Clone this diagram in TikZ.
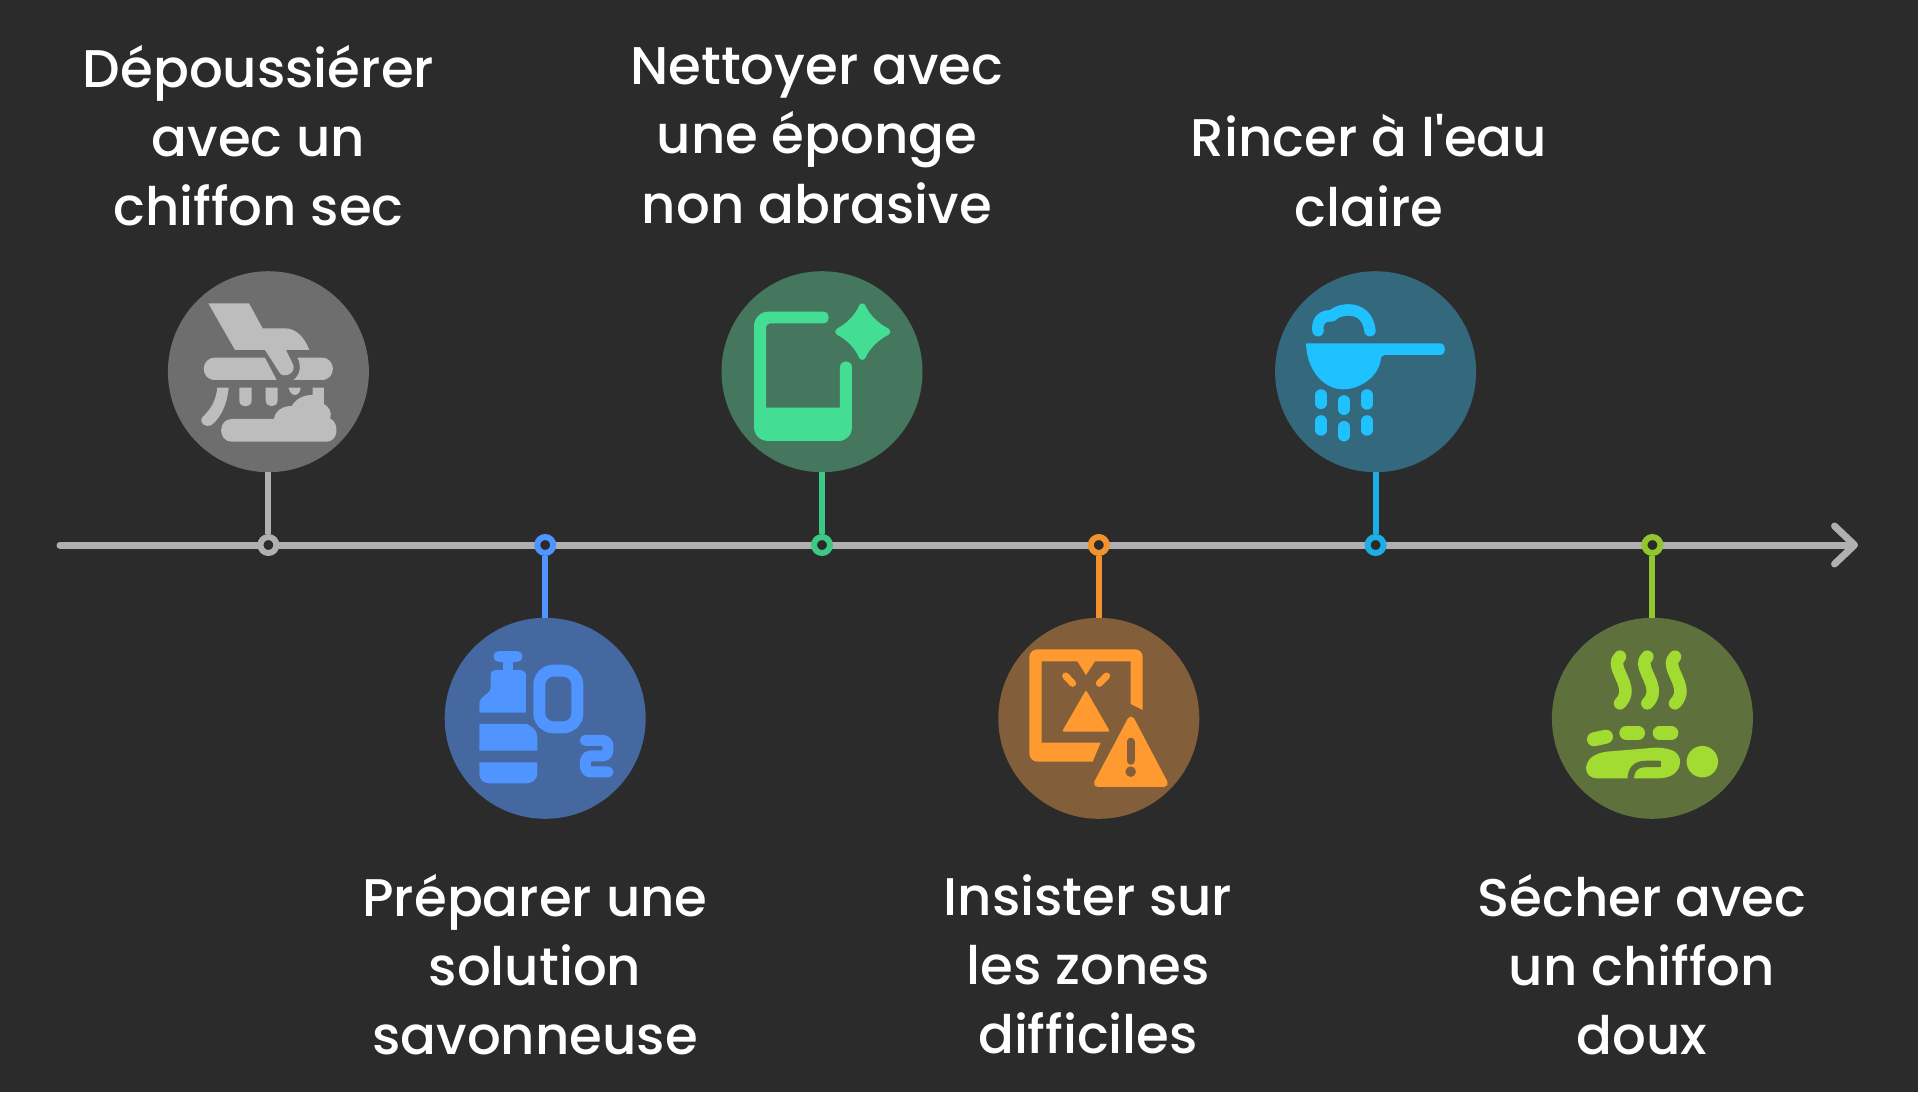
\documentclass[tikz,border=0pt]{standalone}
\usepackage{fontspec}
\usepackage{tikz}
\usetikzlibrary{arrows.meta}
\usepackage{xcolor}
\newfontfamily\StepFont{Poppins Medium}
\definecolor{ColBack}{RGB}{43,43,43}
\definecolor{ColAxis}{RGB}{176,176,176}
\definecolor{ColGrey}{RGB}{189,189,189}
\definecolor{ColGreyDisc}{RGB}{110,110,110}
\definecolor{ColBlue}{RGB}{79,148,255}
\definecolor{ColBlueDisc}{RGB}{68,104,159}
\definecolor{ColGreen}{RGB}{67,222,148}
\definecolor{ColGreenDisc}{RGB}{69,118,94}
\definecolor{ColOrange}{RGB}{255,154,48}
\definecolor{ColOrangeDisc}{RGB}{130,94,58}
\definecolor{ColTeal}{RGB}{31,193,255}
\definecolor{ColTealDisc}{RGB}{52,104,125}
\definecolor{ColLime}{RGB}{162,220,51}
\definecolor{ColLimeDisc}{RGB}{94,113,61}
\tikzstyle{StepDisc}=[circle,inner sep=0pt,outer sep=0pt,minimum size=201pt]
\tikzstyle{StepDot}=[circle,fill=ColBack,inner sep=0pt,minimum size=16pt,line width=6pt]
\tikzstyle{StepStem}=[line width=6pt]
\tikzstyle{AxisLine}=[ColAxis,line width=7pt,line cap=round,
-{Straight Barb[length=20pt,width=38pt,round]}]
\tikzstyle{StepLabel}=[text=white,align=center,font=\StepFont\fontsize{53}{69.3}\selectfont]
\tikzstyle{IconGrid}=[x=.3333pt,y=-.3333pt]
\tikzstyle{IconStroke}=[line cap=round,line join=round,fill=none]
\begin{document}
\begin{tikzpicture}[x=1pt,y=-1pt]
        \fill[ColBack](0,0)rectangle(1918,1092);
        \useasboundingbox(0,0)rectangle(1918,1092);
        \coordinate(AxisStart)at(60,545);
        \coordinate(AxisEnd)at(1858,545);
        \draw[AxisLine](AxisStart)--(AxisEnd);
        \node[StepDisc,fill=ColGreyDisc](c1)at(268.4,371.7){};
        \node[StepDisc,fill=ColBlueDisc](c2)at(545.2,718.3){};
        \node[StepDisc,fill=ColGreenDisc](c3)at(822,371.7){};
        \node[StepDisc,fill=ColOrangeDisc](c4)at(1098.8,718.3){};
        \node[StepDisc,fill=ColTealDisc](c5)at(1375.6,371.7){};
        \node[StepDisc,fill=ColLimeDisc](c6)at(1652.4,718.3){};
        \node[StepDot,draw=ColAxis](d1)at(268.4,545){};
        \node[StepDot,draw=ColBlue](d2)at(545.2,545){};
        \node[StepDot,draw=ColGreen!90!black](d3)at(822,545){};
        \node[StepDot,draw=ColOrange!95!black](d4)at(1098.8,545){};
        \node[StepDot,draw=ColTeal!90!black](d5)at(1375.6,545){};
        \node[StepDot,draw=ColLime!90!black](d6)at(1652.4,545){};
        \draw[StepStem,ColAxis](c1)--(d1);
        \draw[StepStem,ColBlue](c2)--(d2);
        \draw[StepStem,ColGreen!90!black](c3)--(d3);
        \draw[StepStem,ColOrange!95!black](c4)--(d4);
        \draw[StepStem,ColTeal!90!black](c5)--(d5);
        \draw[StepStem,ColLime!90!black](c6)--(d6);
        \node[StepLabel](t1)at(258.5,135.5){Dépoussiérer\\avec un\\chiffon sec};
        \node[StepLabel](t2)at(535,964.5){Préparer une\\solution\\savonneuse};
        \node[StepLabel](t3)at(817,135.5){Nettoyer avec\\une éponge\\non abrasive};
        \node[StepLabel](t4)at(1088,964.5){Insister sur\\les zones\\difficiles};
        \node[StepLabel](t5)at(1369,170.5){Rincer à l'eau\\claire};
        \node[StepLabel](t6)at(1642,964.5){Sécher avec\\un chiffon\\doux};
        \begin{scope}[shift={(150,260)},IconGrid,ColGrey]
            \fill(175,130)--(297,130)--(338,205)--(405,205)..controls(440,205)and(465,235)..(478,270)--(408,270)--(430,315)..controls(437,340)and(405,355)..(390,340)--(345,270)--(255,270)--cycle;
            \fill(345,293)--(195,293)..controls(150,293)and(150,360)..(195,360)--(380,360)--cycle;
            \fill(443,293)--(515,293)..controls(560,293)and(560,360)..(515,360)--(430,360)..controls(450,345)and(455,320)..cycle;
            \fill(202,383)--(236,383)..controls(232,430)and(215,470)..(185,495)..controls(170,505)and(145,490)..(157,472)..controls(185,445)and(198,420)..cycle;
            \fill(268,383)--(305,383)--(305,422)..controls(305,445)and(268,445)..(268,422)--cycle;
            \fill(347,383)--(383,383)--(383,420)..controls(383,445)and(347,445)..(347,420)--cycle;
            \fill(416,383)--(452,383)..controls(450,412)and(420,412)..cycle;
            \fill(245,545)--(530,545)..controls(565,545)and(570,490)..(540,475)..controls(548,455)and(535,440)..(522,432)--(522,383)--(488,383)--(488,405)..controls(460,405)and(440,415)..(425,438)..controls(395,438)and(375,455)..(372,477)--(245,477)..controls(203,477)and(203,545)..cycle;
        \end{scope}
        \begin{scope}[shift={(430,520)},IconGrid,ColBlue]
            \draw[IconStroke,line width=10.5pt](206,409)--(262,409);
            \fill(220,420)rectangle(250,455);
            \fill(148,578)--(148,550)..controls(148,530)and(182,520)..(182,505)--(182,465)..controls(182,455)and(190,450)..(198,450)--(270,450)..controls(280,450)and(288,458)..(288,465)--(288,578)--cycle;
            \fill(148,612)--(290,612)..controls(310,620)and(322,635)..(322,650)--(322,692)--(148,692)--cycle;
            \fill(148,727)--(322,727)--(322,760)..controls(322,780)and(305,790)..(290,790)--(180,790)..controls(160,790)and(148,780)..(148,760)--cycle;
            \draw[line width=12pt,rounded corners=14pt](328,452)rectangle(442,622);
            \draw[IconStroke,line width=11pt,rounded corners=5pt](466,661)--(534,661)--(534,708)--(466,708)--(466,756)--(534,756);
        \end{scope}
        \begin{scope}[shift={(700,260)},IconGrid,ColGreen]
            \fill(370,155)--(205,155)..controls(180,155)and(162,175)..(162,200)--(162,500)..controls(162,525)and(180,543)..(205,543)--(415,543)..controls(440,543)and(456,525)..(456,500)--(456,322)..controls(456,298)and(420,298)..(420,322)--(420,443)--(198,443)--(198,205)..controls(198,195)and(205,190)..(210,190)--(370,190)..controls(392,190)and(392,155)..cycle;
            \filldraw[line width=7pt,line join=round](487,141)..controls(500,172)and(530,200)..(561,215)..controls(530,230)and(500,258)..(487,289)..controls(474,258)and(446,230)..(416,215)..controls(446,200)and(474,172)..cycle;
        \end{scope}
        \begin{scope}[shift={(980,520)},IconGrid,ColOrange]
            \fill(148,410)..controls(148,398)and(160,388)..(172,388)--(465,388)..controls(478,388)and(488,398)..(488,410)--(488,570)--(452,552)--(452,424)--(345,424)--(318,465)--(292,424)--(185,424)--(185,668)--(362,668)--(338,725)--(172,725)..controls(160,725)and(148,715)..(148,700)--cycle;
            \draw[IconStroke,line width=7pt](257,468)--(278,490);
            \draw[IconStroke,line width=7pt](380,468)--(358,490);
            \filldraw[line width=2pt,line join=round](318,516)--(385,632)--(251,632)--cycle;
            \filldraw[line width=7pt,line join=round](453,600)--(553,790)--(352,790)--cycle;
            \draw[IconStroke,ColOrangeDisc,line width=8pt](452,665)--(452,722);
            \fill[ColOrangeDisc](452,755)circle(5.3pt);
        \end{scope}
        \begin{scope}[shift={(1260,260)},IconGrid,ColTeal]
            \fill(138,250)--(540,250)..controls(560,250)and(560,285)..(540,285)--(375,285)..controls(368,285)and(363,290)..(362,300)..controls(355,350)and(300,388)..(250,388)..controls(190,388)and(140,330)..cycle;
            \draw[IconStroke,line width=11.5pt](174,212)..controls(170,180)and(190,165)..(215,168)..controls(235,145)and(320,130)..(330,212);
            \foreach\DropX/\DropA/\DropB in {183/405/430,183/483/510,252/423/448,252/500/527,321/405/432,321/483/510}
                \draw[IconStroke,line width=11.5pt](\DropX,\DropA)--(\DropX,\DropB);
        \end{scope}
        \begin{scope}[shift={(1540,520)},IconGrid,ColLime]
            \foreach\SteamX in {0,82,165}
                \draw[IconStroke,line width=12.5pt](240+\SteamX,410)..controls(210+\SteamX,435)and(262+\SteamX,480)..(256+\SteamX,520)..controls(254+\SteamX,535)and(245+\SteamX,545)..(240+\SteamX,550);
            \draw[IconStroke,line width=14pt](162,658)--(198,650);
            \draw[IconStroke,line width=14pt](259,639)--(294,639);
            \draw[IconStroke,line width=14pt](359,639)--(394,639);
            \fill(138,745)..controls(140,715)and(165,700)..(200,695)--(345,683)..controls(400,683)and(420,700)..(420,725)..controls(420,755)and(395,775)..(355,775)--(170,775)..controls(150,775)and(138,760)..cycle;
            \draw[ColLimeDisc,line width=6.5pt](358,732)--(318,732)..controls(285,732)and(272,750)..(272,782);
            \fill[ColLimeDisc](358,722)rectangle(362,742);
            \fill(487,725)circle(15.7pt);
        \end{scope}
    \end{tikzpicture}
\end{document}
